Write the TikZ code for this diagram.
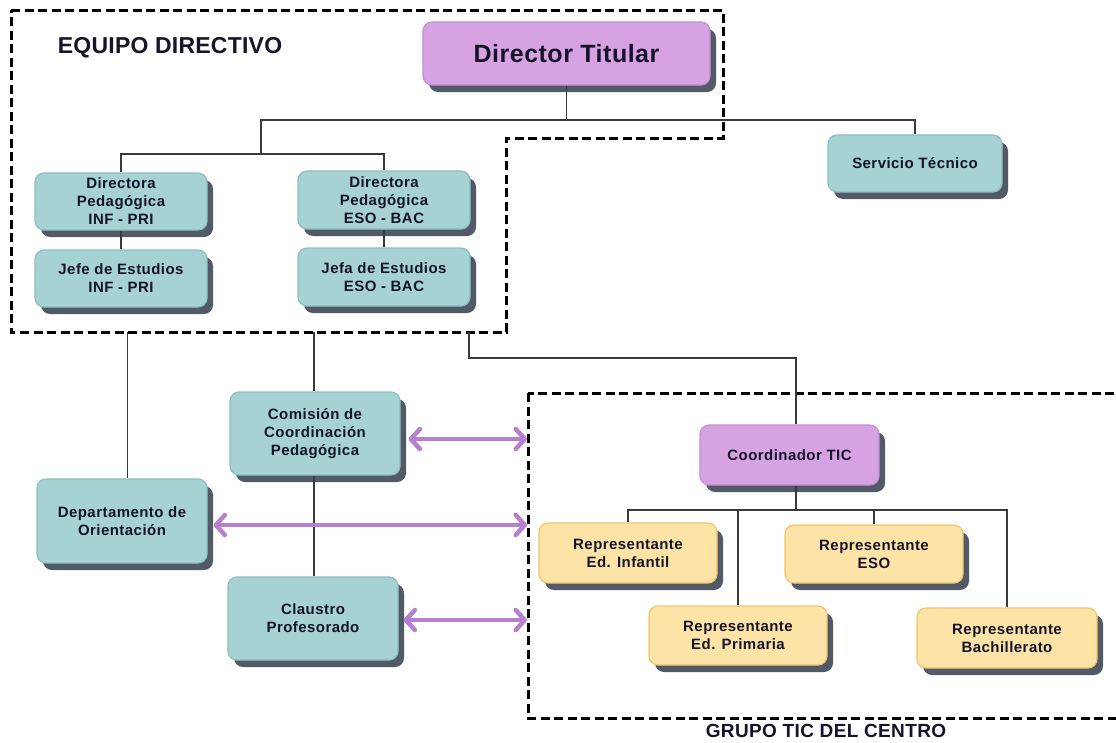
\documentclass[tikz,border=0pt]{standalone}
\usepackage{fontspec}
\setmainfont{Liberation Sans}
\newfontfamily\boxff[LetterSpace=3]{Liberation Sans}
\newfontfamily\titleff[LetterSpace=2]{Liberation Sans}
\newfontfamily\labelff[LetterSpace=1]{Liberation Sans}
\newfontfamily\grupoff[LetterSpace=2]{Liberation Sans}
\usetikzlibrary{shadows,arrows.meta}
\definecolor{cTealFill}{HTML}{A6D2D3}
\definecolor{cTealEdge}{HTML}{8CC0C2}
\definecolor{cPurpFill}{HTML}{D7A2E2}
\definecolor{cPurpEdge}{HTML}{C48ED2}
\definecolor{cYelFill}{HTML}{FDE4A6}
\definecolor{cYelEdge}{HTML}{F2C56C}
\definecolor{cShadow}{HTML}{525A68}
\definecolor{cArrow}{HTML}{B680CF}
\definecolor{cLine}{HTML}{3A3A3A}
\definecolor{cText}{HTML}{15142A}
\tikzset{
  basebox/.style={rounded corners=9pt, line width=1.2pt, align=center, text=cText, inner sep=2pt,
     font=\boxff\bfseries\fontsize{15}{18}\selectfont,
     drop shadow={shadow xshift=6pt, shadow yshift=-7pt, fill=cShadow, opacity=1}},
  tealbox/.style={basebox, fill=cTealFill, draw=cTealEdge},
  purplebox/.style={basebox, fill=cPurpFill, draw=cPurpEdge},
  yellowbox/.style={basebox, fill=cYelFill, draw=cYelEdge},
  conn/.style={draw=cLine, line width=1.1pt},
  dashbox/.style={draw=black, line width=3pt, dash pattern=on 9pt off 4.5pt},
  parrow/.style={draw=cArrow, line width=4.5pt,
     {Straight Barb[length=9pt,width=20pt,round]}-{Straight Barb[length=9pt,width=20pt,round]}},
  heading/.style={text=cText, inner sep=0pt}
}
\begin{document}
\begin{tikzpicture}[x=1pt,y=-1pt]
\useasboundingbox (0,0) rectangle (1116,742);
\clip (0,0) rectangle (1116,742);
\fill[white] (0,0) rectangle (1116,742);

% dashed group frames
\draw[dashbox] (11,10) -- (723,10) -- (723,138) -- (506,138) -- (506,332) -- (11,332) -- cycle;
\draw[dashbox] (528,393) rectangle (1117,718);

% headings
\node[heading, font=\labelff\bfseries\fontsize{23}{27}\selectfont] (lab1) at (170,48) {EQUIPO DIRECTIVO};
\node[heading, font=\grupoff\bfseries\fontsize{19}{23}\selectfont] (lab2) at (826,731) {GRUPO TIC DEL CENTRO};

% boxes
\node[purplebox, minimum width=287pt, minimum height=63pt, font=\titleff\bfseries\fontsize{25}{29}\selectfont] (dir) at (566.5,53.5) {Director Titular};
\node[tealbox, minimum width=174pt, minimum height=57pt] (serv) at (915,163.5) {Servicio Técnico};
\node[tealbox, minimum width=172pt, minimum height=57pt] (dinf) at (121,201.5) {Directora\\Pedagógica\\INF - PRI};
\node[tealbox, minimum width=172pt, minimum height=57pt] (jinf) at (121,278.5) {Jefe de Estudios\\INF - PRI};
\node[tealbox, minimum width=172pt, minimum height=58pt] (deso) at (384,200) {Directora\\Pedagógica\\ESO - BAC};
\node[tealbox, minimum width=172pt, minimum height=58pt] (jeso) at (384,277) {Jefa de Estudios\\ESO - BAC};
\node[tealbox, minimum width=170pt, minimum height=83pt] (com) at (315,433.5) {Comisión de\\Coordinación\\Pedagógica};
\node[tealbox, minimum width=170pt, minimum height=84pt] (dep) at (122,521) {Departamento de\\Orientación};
\node[tealbox, minimum width=170pt, minimum height=83pt] (cla) at (313,618.5) {Claustro\\Profesorado};
\node[purplebox, minimum width=179pt, minimum height=60pt] (coord) at (789.5,455) {Coordinador TIC};
\node[yellowbox, minimum width=178pt, minimum height=60pt] (rinf) at (628,553) {Representante\\Ed. Infantil};
\node[yellowbox, minimum width=178pt, minimum height=58pt] (reso) at (874,554) {Representante\\ESO};
\node[yellowbox, minimum width=178pt, minimum height=59pt] (rpri) at (738,635.5) {Representante\\Ed. Primaria};
\node[yellowbox, minimum width=180pt, minimum height=60pt] (rbac) at (1007,638) {Representante\\Bachillerato};

% connector junctions
\coordinate (h1) at (261,120);
\coordinate (h2) at (261,154);
\coordinate (b1) at (127.5,332);
\coordinate (b2) at (314,332);
\coordinate (b3) at (469,332);
\coordinate (k) at (796,358);
\coordinate (t1) at (796,510);

% connectors, top tree
\draw[conn] (dir.south) -- (dir.south |- h1);
\draw[conn] (h2) -- (h1) -| (serv.north);
\draw[conn] (dinf.north) |- (h2) -| (deso.north);
\draw[conn] (dinf.south) -- (jinf.north);
\draw[conn] (deso.south) -- (jeso.north);

% connectors from the management group
\draw[conn] (b1) -- (b1 |- dep.north);
\draw[conn] (b2) -- (b2 |- com.north);
\draw[conn] (com.south -| b2) -- (cla.north -| b2);
\draw[conn] (b3) |- (k) -- (k |- coord.north);

% TIC tree
\draw[conn] (coord.south -| t1) -- (t1);
\draw[conn] (rinf.north) |- (t1) -| (rbac.north);
\draw[conn] (rpri.north) -- (rpri.north |- t1);
\draw[conn] (reso.north) -- (reso.north |- t1);

% arrows to the TIC group
\coordinate (a1) at (527,439);
\coordinate (a2) at (527,525);
\coordinate (a3) at (527,620);
\draw[parrow] ([xshift=8pt]com.east |- a1) -- (a1);
\draw[parrow] ([xshift=6pt]dep.east |- a2) -- (a2);
\draw[parrow] ([xshift=5pt]cla.east |- a3) -- (a3);
\end{tikzpicture}
\end{document}
